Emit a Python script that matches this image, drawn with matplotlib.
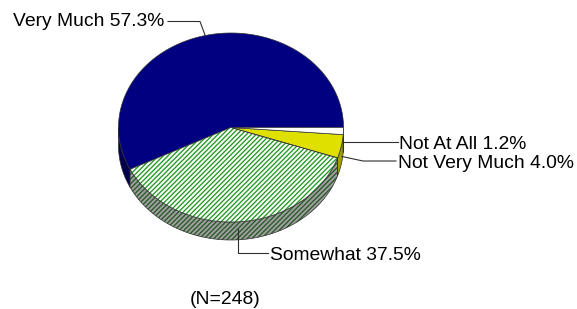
import numpy as np
import matplotlib
matplotlib.use('Agg')
import matplotlib.pyplot as plt
from matplotlib.patches import Polygon

categories = ['Very Much', 'Somewhat', 'Not Very Much', 'Not At All']
percentages = [57.3, 37.5, 4.0, 1.2]
sample_label = '(N=248)'

plt.rcParams['hatch.linewidth'] = 1.0
FONT = 'Liberation Sans'
FS = 13.9

W, H = 577, 309
fig = plt.figure(figsize=(W / 100, H / 100), dpi=100)
ax = fig.add_axes([0, 0, 1, 1])
ax.set_xlim(0, W)
ax.set_ylim(H, 0)
ax.axis('off')

cx, cy, rx, ry, depth = 231, 127.5, 112.5, 94.5, 18


def ell(theta_deg, dy=0.0):
    t = np.radians(theta_deg)
    return cx + rx * np.cos(t), cy - ry * np.sin(t) + dy


HATCH = '///////'
top_face = ['#000080', '#ffffff', '#e0e000', '#ffffff']
top_hatch = [None, HATCH, None, None]
top_hatch_col = [None, '#2a9a2a', None, None]
side_face = ['#00004c', '#a0a0a0', '#a0a000', '#c8c8c8']
side_hatch = [None, HATCH, None, None]
side_hatch_col = [None, '#2c5a2c', None, None]
outline = '#303030'

# slice angles (counterclockwise from 3 o'clock)
bounds = np.concatenate([[0], np.cumsum(percentages) / sum(percentages) * 360])

# side walls
for i in range(len(categories)):
    a, b = bounds[i], bounds[i + 1]
    lo, hi = max(a, 180), min(b, 360)
    if lo >= hi:
        continue
    th = np.linspace(lo, hi, 200)
    x1, y1 = ell(th)
    x2, y2 = ell(th[::-1], depth)
    pts = np.column_stack([np.concatenate([x1, x2]), np.concatenate([y1, y2])])
    if side_hatch[i]:
        ax.add_patch(Polygon(pts, closed=True, facecolor=side_face[i],
                             edgecolor=side_hatch_col[i], hatch=side_hatch[i],
                             linewidth=0, zorder=1))
        ax.add_patch(Polygon(pts, closed=True, fill=False, edgecolor=outline,
                             linewidth=0.5, zorder=1.5))
    else:
        ax.add_patch(Polygon(pts, closed=True, facecolor=side_face[i],
                             edgecolor=outline, linewidth=0.5, zorder=1))

# top faces
for i in range(len(categories)):
    a, b = bounds[i], bounds[i + 1]
    th = np.linspace(a, b, 300)
    x1, y1 = ell(th)
    pts = np.column_stack([np.concatenate([[cx], x1]), np.concatenate([[cy], y1])])
    if top_hatch[i]:
        ax.add_patch(Polygon(pts, closed=True, facecolor=top_face[i],
                             edgecolor=top_hatch_col[i], hatch=top_hatch[i],
                             linewidth=0, zorder=2))
        ax.add_patch(Polygon(pts, closed=True, fill=False, edgecolor=outline,
                             linewidth=0.5, zorder=2.5))
    else:
        ax.add_patch(Polygon(pts, closed=True, facecolor=top_face[i],
                             edgecolor=outline, linewidth=0.5, zorder=2))

# labels with leader lines
labels = [f'{c} {p:.1f}%' for c, p in zip(categories, percentages)]
lc = '#303030'
lw = 0.8
# Very Much
ax.plot([168, 200, 205], [21.5, 21.5, 35], color=lc, lw=lw, zorder=3)
ax.text(13, 26, labels[0], fontsize=FS, family=FONT, ha='left', va='baseline')
# Somewhat
ax.plot([238, 238, 268], [229, 253, 253], color=lc, lw=lw, zorder=3)
ax.text(270.5, 260, labels[1], fontsize=FS, family=FONT, ha='left', va='baseline')
# Not Very Much
ax.plot([342, 363, 396], [156.5, 161, 161], color=lc, lw=lw, zorder=3)
ax.text(397.5, 167.5, labels[2], fontsize=FS, family=FONT, ha='left', va='baseline')
# Not At All
ax.plot([343, 398], [142, 142], color=lc, lw=lw, zorder=3)
ax.text(399, 149, labels[3], fontsize=FS, family=FONT, ha='left', va='baseline')

ax.text(225, 304, sample_label, fontsize=FS, family=FONT, ha='center', va='baseline')

fig.savefig('out.png', dpi=100)
